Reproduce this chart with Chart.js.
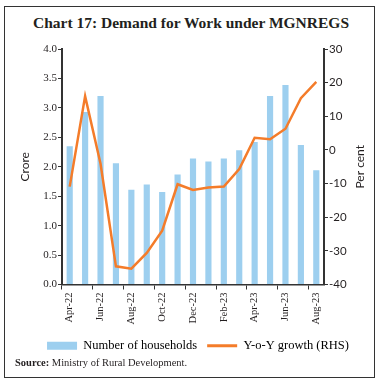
<!DOCTYPE html>
<html>
<head>
<meta charset="utf-8">
<script src="https://cdn.jsdelivr.net/npm/chart.js@4.4.1/dist/chart.umd.min.js"></script>
<style>
  html, body { margin: 0; padding: 0; background: #fff; }
  #wrap { position: relative; width: 382px; height: 384px; overflow: hidden; }
  #frame { position: absolute; left: 4px; top: 6px; width: 371px; height: 372px; border: 1.5px solid #333; box-sizing: border-box; }
  #title { position: absolute; left: 0; top: 14px; width: 382px; text-align: center;
           font: bold 15.5px "Liberation Serif", serif; color: #231f20; }
  #source { position: absolute; left: 15px; top: 357px; font: 10.5px "Liberation Serif", serif; color: #231f20; }
  canvas { position: absolute; left: 0; top: 0; }
</style>
</head>
<body>
<div id="wrap">
  <div id="frame"></div>
  <div id="title">Chart 17: Demand for Work under MGNREGS</div>
  <canvas id="c" width="382" height="384"></canvas>
  <div id="source"><b>Source:</b> Ministry of Rural Development.</div>
</div>
<script>
const months = ['Apr-22','May-22','Jun-22','Jul-22','Aug-22','Sep-22','Oct-22','Nov-22','Dec-22',
                'Jan-23','Feb-23','Mar-23','Apr-23','May-23','Jun-23','Jul-23','Aug-23'];
const households = [2.35, 2.93, 3.20, 2.06, 1.61, 1.70, 1.57, 1.87, 2.14, 2.09, 2.14, 2.28, 2.42, 3.20, 3.39, 2.37, 1.94];
const yoyGrowth = [-10.9, 16.0, -4.1, -34.6, -35.3, -30.6, -24.0, -10.2, -11.9, -11.2, -10.9, -5.7, 3.6, 3.2, 6.3, 15.4, 20.2];
const leftTicks = [0, 4, 0.5];
const rightTicks = [-40, 30, 10];

const BLUE = '#9dcfef';
const ORANGE = '#f47c2a';
const AXIS = '#333333';
const TEXT = '#231f20';

const rightTitle = {
  id: 'rightTitle',
  afterDraw(chart) {
    const ctx = chart.ctx, a = chart.chartArea;
    ctx.save();
    ctx.translate(360, (a.top + a.bottom) / 2);
    ctx.rotate(-Math.PI / 2);
    ctx.font = '12px Lato';
    ctx.fillStyle = TEXT;
    ctx.textAlign = 'center';
    ctx.textBaseline = 'middle';
    ctx.fillText('Per cent', 0, 0);
    ctx.restore();
  }
};

new Chart(document.getElementById('c'), {
  data: {
    labels: months,
    datasets: [
      { type: 'bar', label: 'Number of households', data: households, yAxisID: 'y',
        backgroundColor: BLUE, barPercentage: 0.4, categoryPercentage: 1, order: 2 },
      { type: 'line', label: 'Y-o-Y growth (RHS)', data: yoyGrowth, yAxisID: 'y1',
        borderColor: ORANGE, borderWidth: 2.5, pointRadius: 0, tension: 0, order: 1 }
    ]
  },
  options: {
    responsive: false,
    animation: false,
    layout: { padding: { top: 49, left: 14, right: 0, bottom: 22 } },
    plugins: {
      tooltip: { enabled: false },
      legend: {
        position: 'bottom',
        labels: {
          font: { family: 'Liberation Serif', size: 12.5 },
          color: TEXT,
          usePointStyle: true,
          pointStyleWidth: 30,
          boxHeight: 8,
          padding: 10,
          generateLabels: () => [
            { text: 'Number of households', fillStyle: BLUE, strokeStyle: BLUE, lineWidth: 0, pointStyle: 'rect', datasetIndex: 0 },
            { text: 'Y-o-Y growth (RHS)', fillStyle: ORANGE, strokeStyle: ORANGE, lineWidth: 3, pointStyle: 'line', datasetIndex: 1 }
          ]
        }
      }
    },
    scales: {
      x: {
        offset: true,
        grid: { display: true, drawOnChartArea: false, offset: true, tickLength: 5,
                tickColor: (c) => (c.index !== undefined && c.index % 2 === 0) ? AXIS : 'rgba(0,0,0,0)' },
        border: { display: true, color: AXIS, width: 1.5 },
        ticks: {
          autoSkip: false, maxRotation: 90, minRotation: 90, padding: 3,
          font: { family: 'Liberation Serif', size: 10.5 }, color: TEXT,
          callback: (v, i) => i % 2 === 0 ? months[i] : ''
        },
        afterFit: (s) => { s.height = 45; }
      },
      y: {
        position: 'left', min: leftTicks[0], max: leftTicks[1],
        grid: { display: true, drawOnChartArea: false, tickLength: 4, tickColor: AXIS },
        border: { display: true, color: AXIS, width: 2 },
        ticks: { stepSize: leftTicks[2], padding: 1, font: { family: 'Liberation Serif', size: 11 }, color: TEXT,
                 callback: (v) => Number(v).toFixed(1) },
        title: { display: true, text: 'Crore', font: { family: 'Lato', size: 12 }, color: TEXT, padding: { top: 4, bottom: 4 } },
        afterFit: (s) => { s.width = 48; }
      },
      y1: {
        position: 'right', min: rightTicks[0], max: rightTicks[1],
        grid: { display: true, drawOnChartArea: false, tickLength: 4, tickColor: AXIS },
        border: { display: true, color: AXIS, width: 2 },
        ticks: { stepSize: rightTicks[2], padding: 1, font: { family: 'Lato', size: 11.5 }, color: TEXT },
        afterFit: (s) => { s.width = 58; }
      }
    }
  },
  plugins: [rightTitle]
});
</script>
</body>
</html>
